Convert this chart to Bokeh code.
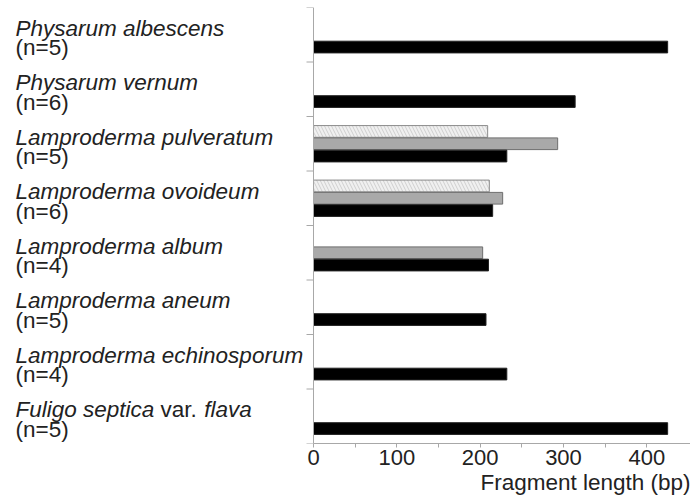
from bokeh.plotting import figure
from bokeh.models import Range1d, FixedTicker, ColumnDataSource, Span, Title
from bokeh.core.properties import value
from bokeh.embed import file_html
from bokeh.resources import INLINE

# ---------------- data ----------------
species = ["Physarum albescens", "Physarum vernum", "Lamproderma pulveratum",
           "Lamproderma ovoideum", "Lamproderma album", "Lamproderma aneum",
           "Lamproderma echinosporum", "Fuligo septica var. flava"]
n_counts = [5, 6, 5, 6, 4, 5, 4, 5]
series_hatched = [None, None, 209, 211, None, None, None, None]
series_gray = [None, None, 293, 227, 203, None, None, None]
series_black = [425, 314, 232, 215, 210, 207, 232, 425]
x_ticks = [0, 100, 200, 300, 400]
x_minor = [50, 150, 250, 350]
x_label = "Fragment length (bp)"

# ---------------- style ----------------
FONT = "Liberation Sans"
LBL_FS = 22.5
TICK_FS = "22px"
TXT = "#222222"
AXC = "#a8a8a8"
W, H = 690, 497
TOP, BOTTOM = 7, 54
ZERO_PX = 313          # pixel position of value 0
PX_PER_UNIT = 0.8333
XMIN = -ZERO_PX / PX_PER_UNIT
XMAX = (W - ZERO_PX) / PX_PER_UNIT
LABEL_X = XMIN + 15 / PX_PER_UNIT
YTICK_LEN = 7 / PX_PER_UNIT
NAME_POS, N_POS = 0.38, 0.74   # baseline positions inside each category band

# Arial/Liberation advance widths (per 1000 em) for offset of mixed-style label
ADV = dict(a=556, b=556, c=500, d=556, e=556, f=278, g=556, h=556, i=222, j=222,
           k=500, l=222, m=833, n=556, o=556, p=556, q=556, r=333, s=500, t=278,
           u=556, v=500, w=722, x=500, y=500, z=500)
ADV.update({" ": 278, ".": 278, "F": 611, "L": 556, "P": 667})


def text_width(s, fs):
    return sum(ADV.get(ch, 556) for ch in s) * fs / 1000.0


ncat = len(species)
p = figure(width=W, height=H, x_range=Range1d(XMIN, XMAX), y_range=Range1d(ncat, 0),
           toolbar_location=None, output_backend="svg",
           min_border_left=0, min_border_right=0,
           min_border_top=TOP, min_border_bottom=BOTTOM,
           y_axis_location=None)
p.xgrid.visible = False
p.ygrid.visible = False
p.outline_line_color = None

# x axis (only over the data part)
ax = p.xaxis[0]
ax.bounds = (0, XMAX)
ax.ticker = FixedTicker(ticks=x_ticks, minor_ticks=x_minor)
ax.major_label_text_font = FONT
ax.major_label_text_font_size = TICK_FS
ax.major_label_text_color = TXT
ax.major_label_standoff = 2
ax.major_tick_out = 4
ax.major_tick_in = 0
ax.minor_tick_out = 4
ax.minor_tick_in = 0
ax.axis_line_color = AXC
ax.major_tick_line_color = AXC
ax.minor_tick_line_color = AXC

p.add_layout(Title(text=x_label, align="right", text_font=FONT, text_font_style="normal",
                   text_font_size=f"{LBL_FS}px", text_color=TXT, standoff=0), "below")

# y axis line and category boundary ticks at value 0
p.add_layout(Span(location=0, dimension="height", line_color=AXC, line_width=1))
p.segment(x0=[-YTICK_LEN] * (ncat + 1), x1=[0] * (ncat + 1),
          y0=list(range(ncat + 1)), y1=list(range(ncat + 1)),
          line_color=AXC, line_width=1)

# bars
STEP = 0.2257
BAR_H = 0.215


def src_for(vals, shift):
    ys, rs = [], []
    for i, v in enumerate(vals):
        if v is not None:
            ys.append(i + 0.5 + shift * STEP)
            rs.append(v)
    return ColumnDataSource(dict(y=ys, right=rs))


p.hbar(y="y", right="right", left=0, height=BAR_H, source=src_for(series_hatched, -1),
       fill_color="#f0f0f0", hatch_pattern="\\", hatch_color="#cfcfcf", hatch_scale=7,
       hatch_weight=1, line_color="#8a8a8a", line_width=1)
p.hbar(y="y", right="right", left=0, height=BAR_H, source=src_for(series_gray, 0),
       fill_color="#a9a9a9", line_color="#6e6e6e", line_width=1)
p.hbar(y="y", right="right", left=0, height=BAR_H, source=src_for(series_black, 1),
       fill_color="#000000", line_color="#222222", line_width=1)

# category labels
seg_x, seg_y, seg_t, seg_off, seg_style = [], [], [], [], []
for i, name in enumerate(species):
    base = i + NAME_POS
    if " var. " in name:
        a, b = name.split(" var. ")
        parts = [(a + " ", "italic"), ("var. ", "normal"), (b, "italic")]
    else:
        parts = [(name, "italic")]
    off = 0.0
    for txt, st in parts:
        seg_x.append(LABEL_X)
        seg_y.append(base)
        seg_t.append(txt)
        seg_off.append(off)
        seg_style.append(st)
        off += text_width(txt, LBL_FS)

name_src = ColumnDataSource(dict(x=seg_x, y=seg_y, t=seg_t, off=seg_off, st=seg_style))
p.text(x="x", y="y", text="t", x_offset="off", source=name_src,
       text_font=value(FONT), text_font_style="st", text_font_size=value(f"{LBL_FS}px"),
       text_color=TXT, text_baseline="alphabetic", text_align="left")

n_src = ColumnDataSource(dict(x=[LABEL_X] * ncat,
                              y=[i + N_POS for i in range(ncat)],
                              t=[f"(n={n})" for n in n_counts]))
p.text(x="x", y="y", text="t", source=n_src,
       text_font=value(FONT), text_font_size=value(f"{LBL_FS}px"),
       text_color=TXT, text_baseline="alphabetic", text_align="left")

open("out.html", "w").write(file_html(p, INLINE))
